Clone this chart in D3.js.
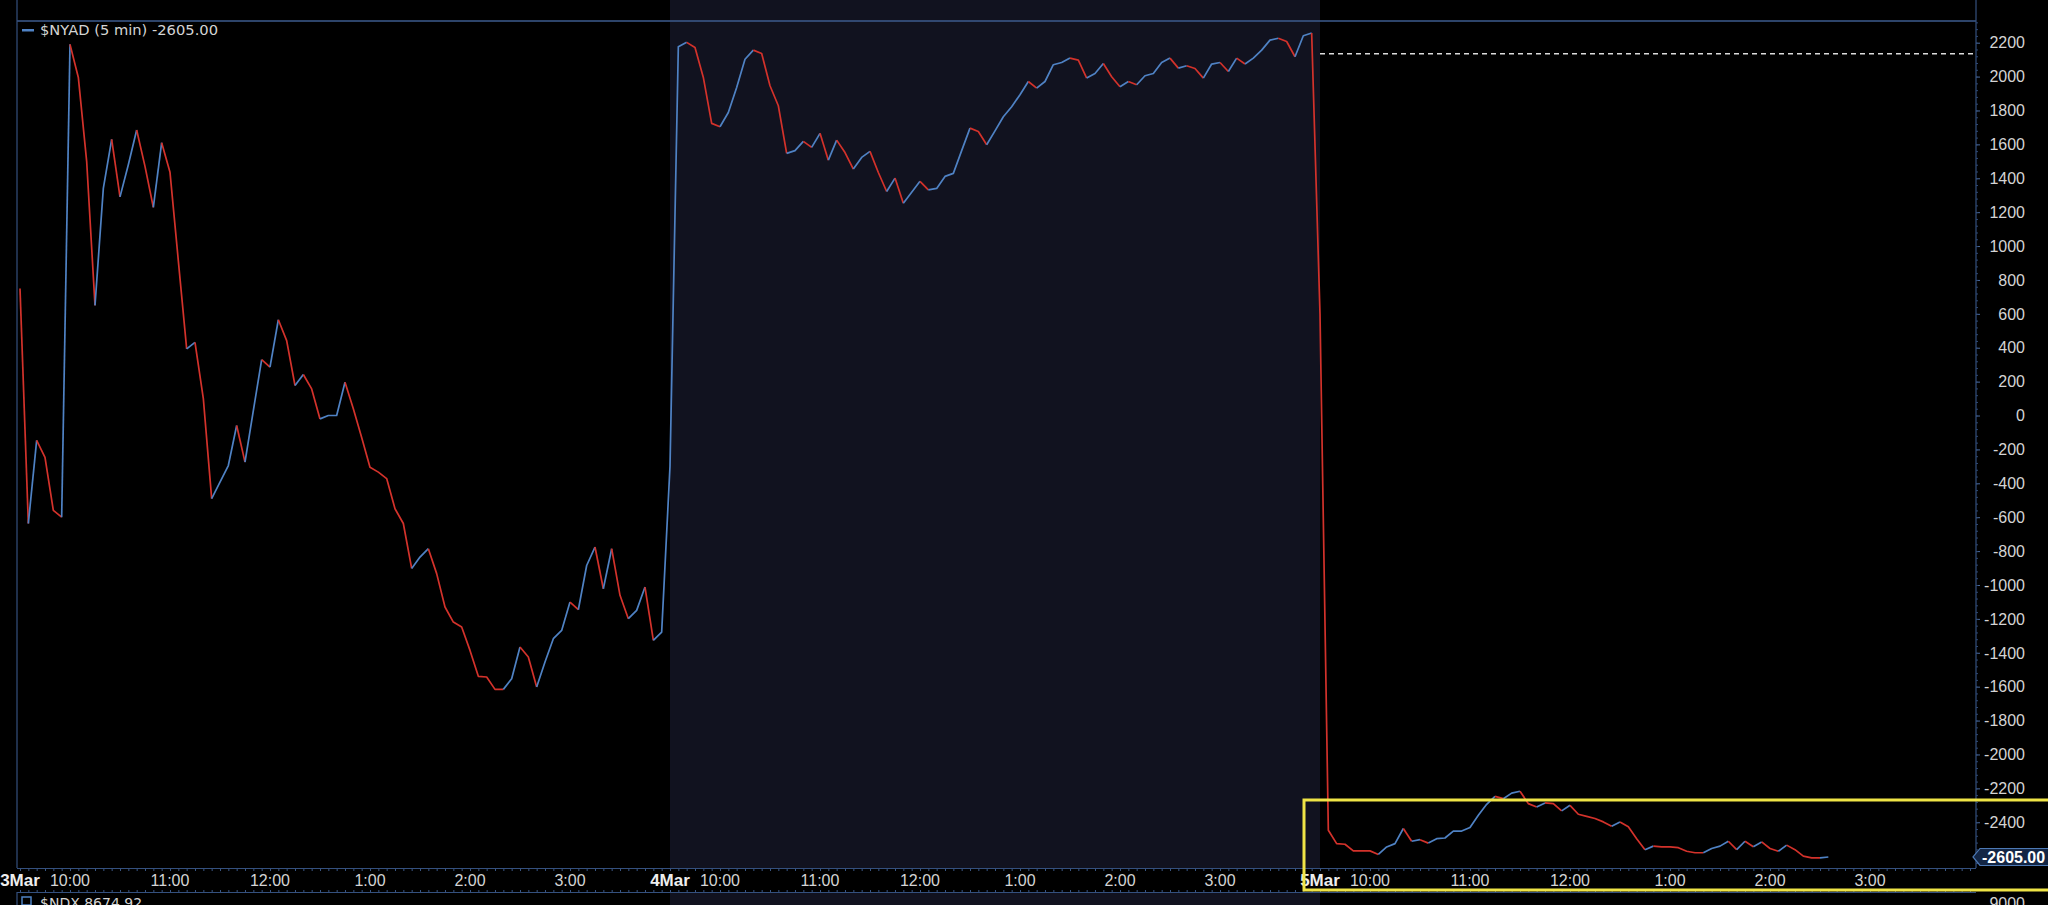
<!DOCTYPE html>
<html><head><meta charset="utf-8">
<script src="https://cdn.jsdelivr.net/npm/d3@7"></script>
<style>html,body{margin:0;padding:0;background:#000;overflow:hidden}</style>
</head><body>
<svg id="c" width="2048" height="905"></svg>
<script>
// ---- data (5-minute bars, one array per session) ----
const day1Values = [750,-637,-147,-247,-560,-600,2190,1995,1500,650,1340,1630,1290,1480,1685,1470,1228,1610,1435,913,393,432,100,-490,-393,-295,-59,-275,29,330,285,565,442,177,242,157,-20,0,0,196,40,-130,-305,-334,-372,-550,-637,-902,-835,-786,-933,-1130,-1219,-1248,-1386,-1539,-1543,-1616,-1616,-1553,-1366,-1425,-1602,-1454,-1317,-1268,-1101,-1146,-885,-776,-1022,-786,-1061,-1199,-1150,-1012,-1327,-1278];
const day2Values = [-300,2176,2202,2172,1995,1724,1704,1788,1936,2102,2156,2136,1946,1828,1547,1563,1618,1582,1665,1507,1625,1552,1454,1523,1559,1434,1322,1401,1253,1317,1382,1331,1340,1411,1429,1563,1696,1676,1598,1680,1763,1822,1893,1971,1932,1971,2070,2083,2109,2097,1991,2018,2077,1999,1940,1971,1952,2005,2018,2083,2109,2050,2064,2048,1991,2074,2083,2030,2109,2074,2109,2156,2215,2226,2207,2117,2241,2257];
const day3Values = [600,-2447,-2526,-2530,-2569,-2569,-2569,-2590,-2546,-2526,-2437,-2512,-2503,-2523,-2497,-2493,-2452,-2452,-2431,-2359,-2294,-2247,-2261,-2228,-2217,-2290,-2310,-2286,-2290,-2333,-2300,-2353,-2365,-2378,-2398,-2423,-2398,-2427,-2497,-2562,-2541,-2545,-2545,-2550,-2571,-2580,-2580,-2555,-2541,-2512,-2562,-2512,-2545,-2516,-2555,-2571,-2535,-2562,-2600,-2610,-2610,-2605];
const dayLabels = ["3Mar","4Mar","5Mar"];
const hourLabels = ["10:00","11:00","12:00","1:00","2:00","3:00"];
const yTickValues = d3.range(-2400, 2201, 200);
const lastValue = -2605;
const refLevel = 2135;
const seriesName = "$NYAD (5 min)";
const lowerPanelLabel = "$NDX 8674.92";
const lowerPanelTick = "9000";

const BARS_PER_DAY = 78;
const days = [day1Values, day2Values, day3Values];
const data = [];
days.forEach((arr, d) => arr.forEach((v, k) => data.push({i: d*BARS_PER_DAY + k, v})));

const svg = d3.select("#c");
const W = 2048, H = 905;
const plotL = 17, plotR = 1976, plotT = 21, plotB = 868, axisB = 892;

const x = d3.scaleLinear().domain([0, 3*BARS_PER_DAY]).range([20, 1970]);
const y = d3.scaleLinear().domain([-2670, 2328]).range([plotB, plotT]);

const blue = "#4f82c4", red = "#d3322b", frame = "#34507e", txt = "#d4d4d4";

svg.append("rect").attr("width", W).attr("height", H).attr("fill", "#000");
// session shading for day 2
svg.append("rect").attr("x", x(BARS_PER_DAY)).attr("y", 0)
  .attr("width", x(2*BARS_PER_DAY) - x(BARS_PER_DAY)).attr("height", plotB).attr("fill", "#11121f");
svg.append("rect").attr("x", x(BARS_PER_DAY)).attr("y", axisB)
  .attr("width", x(2*BARS_PER_DAY) - x(BARS_PER_DAY)).attr("height", H - axisB).attr("fill", "#11121f");

// frame lines
const g = svg.append("g");
g.append("line").attr("x1", plotL).attr("x2", plotR).attr("y1", plotT).attr("y2", plotT).attr("stroke", "#3d5b8e").attr("stroke-width", 1.5);
g.append("line").attr("x1", plotL).attr("x2", plotL).attr("y1", 0).attr("y2", plotB).attr("stroke", frame).attr("stroke-width", 1.2);
g.append("line").attr("x1", plotL).attr("x2", plotL).attr("y1", axisB).attr("y2", H).attr("stroke", frame).attr("stroke-width", 1.2);
g.append("line").attr("x1", plotR).attr("x2", plotR).attr("y1", 0).attr("y2", plotB).attr("stroke", frame).attr("stroke-width", 1.2);
g.append("line").attr("x1", plotL).attr("x2", plotR).attr("y1", plotB + .5).attr("y2", plotB + .5).attr("stroke", frame).attr("stroke-width", 1);
g.append("line").attr("x1", plotL).attr("x2", plotR).attr("y1", axisB + .5).attr("y2", axisB + .5).attr("stroke", frame).attr("stroke-width", 1);

// x axis minor ticks (5-min)
const minor = d3.range(0, 3*BARS_PER_DAY + 1);
svg.append("g").attr("transform", `translate(0,${plotB + 1})`)
  .call(d3.axisBottom(x).tickValues(minor).tickSize(2).tickFormat(""))
  .call(s => { s.select(".domain").remove(); s.selectAll("line").attr("stroke", "#3a5684"); });
svg.append("g").attr("transform", `translate(0,${axisB})`)
  .call(d3.axisTop(x).tickValues(minor).tickSize(2).tickFormat(""))
  .call(s => { s.select(".domain").remove(); s.selectAll("line").attr("stroke", "#3a5684"); });

// x labels
const hourTicks = [], dateTicks = [];
for (let d = 0; d < 3; d++) {
  dateTicks.push({i: d*BARS_PER_DAY, t: dayLabels[d]});
  hourLabels.forEach((h, j) => hourTicks.push({i: d*BARS_PER_DAY + 6 + 12*j, t: h}));
}
svg.append("g").selectAll("text").data(hourTicks).join("text")
  .attr("x", d => x(d.i)).attr("y", 886).attr("text-anchor", "middle")
  .attr("font-family", "Liberation Sans, Arial, sans-serif").attr("font-size", 16).attr("fill", txt)
  .text(d => d.t);
svg.append("g").selectAll("text").data(dateTicks).join("text")
  .attr("x", d => x(d.i)).attr("y", 886).attr("text-anchor", "middle")
  .attr("font-family", "Liberation Sans Narrow, Arial Narrow, Liberation Sans, sans-serif").attr("font-weight", "bold")
  .attr("font-size", 17).attr("fill", "#eeeeee")
  .text(d => d.t);

// right axis
svg.append("g").attr("transform", `translate(${plotR},0)`)
  .call(d3.axisRight(y).tickValues(yTickValues).tickSize(4).tickFormat(""))
  .call(s => { s.select(".domain").remove(); s.selectAll("line").attr("stroke", "#4a6a9c"); });
svg.append("g").attr("transform", `translate(${plotR},0)`)
  .call(d3.axisRight(y).tickValues(d3.range(-2640, 2321, 40)).tickSize(2).tickFormat(""))
  .call(s => { s.select(".domain").remove(); s.selectAll("line").attr("stroke", "#2f4a76"); });
svg.append("g").selectAll("text").data(yTickValues).join("text")
  .attr("x", 2025).attr("y", d => y(d)).attr("dy", "0.36em").attr("text-anchor", "end")
  .attr("font-family", "Liberation Sans, Arial, sans-serif").attr("font-size", 16).attr("fill", txt)
  .text(d => d);

// reference dashed line
svg.append("line").attr("x1", x(2*BARS_PER_DAY)).attr("x2", plotR).attr("y1", y(refLevel)).attr("y2", y(refLevel))
  .attr("stroke", "#dcdcdc").attr("stroke-width", 1.5).attr("stroke-dasharray", "5,4");

// series line, coloured by direction
const segs = [];
let prevCol = red;
for (let n = 1; n < data.length; n++) {
  const a = data[n-1], b = data[n];
  const col = b.v > a.v ? blue : (b.v < a.v ? red : prevCol);
  prevCol = col;
  if (segs.length && segs[segs.length-1].col === col) segs[segs.length-1].pts.push(b);
  else segs.push({col, pts: [a, b]});
}
const line = d3.line().x(d => x(d.i)).y(d => y(d.v));
svg.append("g").attr("fill", "none").attr("stroke-width", 1.7).attr("stroke-linejoin", "round")
  .selectAll("path").data(segs).join("path")
  .attr("stroke", d => d.col).attr("d", d => line(d.pts));

// legend
svg.append("rect").attr("x", 22).attr("y", 29).attr("width", 12).attr("height", 2.5).attr("fill", blue);
svg.append("text").attr("x", 40).attr("y", 35).attr("font-family", "DejaVu Sans, sans-serif").attr("font-size", 14)
  .attr("textLength", 178).attr("lengthAdjust", "spacingAndGlyphs")
  .attr("fill", txt).text(`${seriesName} ${lastValue.toFixed(2)}`);

// highlight box
svg.append("rect").attr("x", 1304).attr("y", 800).attr("width", 800).attr("height", 90)
  .attr("fill", "none").attr("stroke", "#efe446").attr("stroke-width", 3);

// last value label
const ly = y(lastValue);
svg.append("path").attr("d", `M1973,${ly} L1980,${ly-8.5} L2050,${ly-8.5} L2050,${ly+8.5} L1980,${ly+8.5} Z`)
  .attr("fill", "#132645").attr("stroke", "#4d79b4").attr("stroke-width", 1.2);
svg.append("text").attr("x", 1982).attr("y", ly).attr("dy", "0.36em")
  .attr("font-family", "Liberation Sans, Arial, sans-serif").attr("font-weight", "bold").attr("font-size", 16)
  .attr("fill", "#ffffff").text(lastValue.toFixed(2));

// lower panel stub
svg.append("rect").attr("x", 22).attr("y", 897).attr("width", 9).attr("height", 8).attr("fill", "none").attr("stroke", blue).attr("stroke-width", 1.5);
svg.append("text").attr("x", 40).attr("y", 908).attr("font-family", "DejaVu Sans, sans-serif").attr("font-size", 14)
  .attr("fill", txt).text(lowerPanelLabel);
svg.append("text").attr("x", 2025).attr("y", 909).attr("text-anchor", "end")
  .attr("font-family", "Liberation Sans, Arial, sans-serif").attr("font-size", 16).attr("fill", txt).text(lowerPanelTick);
</script>
</body></html>
